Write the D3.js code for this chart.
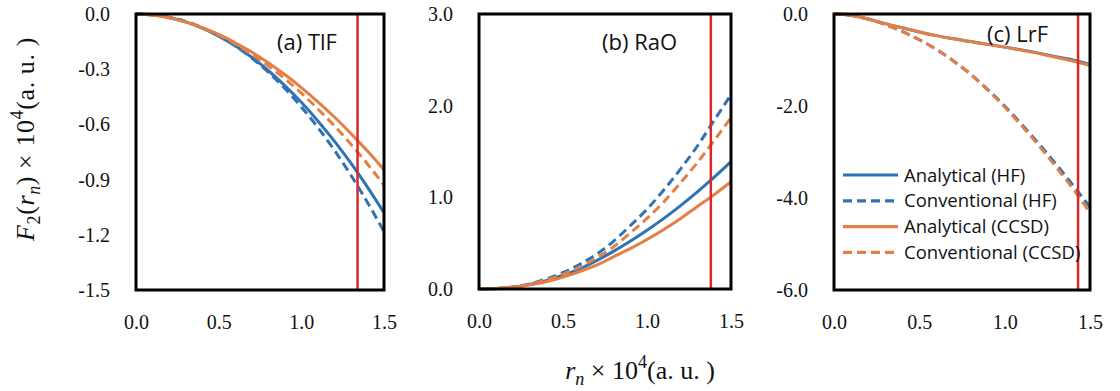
<!DOCTYPE html>
<html>
<head>
<meta charset="utf-8">
<script src="https://cdn.jsdelivr.net/npm/d3@7"></script>
<style>
  body { margin: 0; background: #ffffff; }
  svg { display: block; }
</style>
</head>
<body>
<svg id="chart" width="1120" height="391"></svg>
<script>
// Nuclear radius r_n (×10^4 a.u.)
const rn = [0.0, 0.1, 0.2, 0.3, 0.4, 0.5, 0.6, 0.7, 0.8, 0.9, 1.0, 1.1, 1.2, 1.3, 1.4, 1.5];

// (a) TlF
const tlfAnalyticalHF   = [0, -0.005, -0.019, -0.043, -0.077, -0.120, -0.173, -0.235, -0.307, -0.389, -0.480, -0.581, -0.691, -0.811, -0.941, -1.080];
const tlfConventionalHF = [0, -0.004, -0.017, -0.040, -0.074, -0.118, -0.173, -0.239, -0.316, -0.405, -0.505, -0.617, -0.740, -0.876, -1.024, -1.183];
const tlfAnalyticalCC   = [0, -0.006, -0.020, -0.043, -0.074, -0.111, -0.156, -0.207, -0.265, -0.329, -0.400, -0.477, -0.560, -0.650, -0.745, -0.847];
const tlfConventionalCC = [0, -0.005, -0.020, -0.044, -0.075, -0.115, -0.163, -0.218, -0.281, -0.352, -0.430, -0.516, -0.608, -0.708, -0.815, -0.930];

// (b) RaO
const raoAnalyticalHF   = [0, 0.005, 0.020, 0.050, 0.090, 0.150, 0.220, 0.310, 0.410, 0.520, 0.640, 0.770, 0.910, 1.060, 1.220, 1.390];
const raoConventionalHF = [0, 0.005, 0.022, 0.055, 0.110, 0.180, 0.270, 0.380, 0.520, 0.690, 0.870, 1.080, 1.310, 1.560, 1.840, 2.120];
const raoAnalyticalCC   = [0, 0.004, 0.018, 0.045, 0.080, 0.130, 0.190, 0.260, 0.350, 0.440, 0.540, 0.650, 0.770, 0.900, 1.030, 1.170];
const raoConventionalCC = [0, 0.005, 0.020, 0.050, 0.100, 0.160, 0.240, 0.340, 0.460, 0.610, 0.770, 0.950, 1.160, 1.380, 1.620, 1.870];

// (c) LrF
const lrfAnalyticalHF   = [0, -0.03, -0.11, -0.21, -0.30, -0.39, -0.47, -0.54, -0.60, -0.66, -0.72, -0.78, -0.85, -0.93, -1.00, -1.10];
const lrfConventionalHF = [0, -0.03, -0.11, -0.23, -0.38, -0.56, -0.77, -1.02, -1.31, -1.64, -2.00, -2.40, -2.82, -3.26, -3.72, -4.20];
const lrfAnalyticalCC   = [0, -0.03, -0.11, -0.21, -0.30, -0.39, -0.47, -0.54, -0.60, -0.66, -0.72, -0.79, -0.86, -0.94, -1.02, -1.12];
const lrfConventionalCC = [0, -0.03, -0.11, -0.23, -0.38, -0.56, -0.77, -1.02, -1.31, -1.65, -2.02, -2.43, -2.86, -3.32, -3.80, -4.32];

// Nuclear radius marker for each molecule
const nuclearRadius = { TlF: 1.34, RaO: 1.38, LrF: 1.43 };

// Axis ticks
const xTicks = [0.0, 0.5, 1.0, 1.5];
const yTicksA = [0.0, -0.3, -0.6, -0.9, -1.2, -1.5];
const yTicksB = [0.0, 1.0, 2.0, 3.0];
const yTicksC = [0.0, -2.0, -4.0, -6.0];

// Legend entries
const seriesNames = ["Analytical (HF)", "Conventional (HF)", "Analytical (CCSD)", "Conventional (CCSD)"];

const BLUE = "#2e74b5";
const ORANGE = "#e47f45";
const RED = "#d62a2a";
const seriesStyle = [
  { color: BLUE,   dash: null },
  { color: BLUE,   dash: "9,5" },
  { color: ORANGE, dash: null },
  { color: ORANGE, dash: "9,5" }
];

const panels = [
  { name: "TlF", label: "(a) TlF", x0: 136, x1: 384, y0: 14, y1: 290,
    yDomain: [-1.5, 0], yTicks: yTicksA,
    series: [tlfAnalyticalHF, tlfConventionalHF, tlfAnalyticalCC, tlfConventionalCC],
    labelX: 277, labelY: 50 },
  { name: "RaO", label: "(b) RaO", x0: 479, x1: 731, y0: 14, y1: 289,
    yDomain: [0, 3], yTicks: yTicksB,
    series: [raoAnalyticalHF, raoConventionalHF, raoAnalyticalCC, raoConventionalCC],
    labelX: 602, labelY: 50 },
  { name: "LrF", label: "(c) LrF", x0: 834, x1: 1090, y0: 14, y1: 290,
    yDomain: [-6, 0], yTicks: yTicksC,
    series: [lrfAnalyticalHF, lrfConventionalHF, lrfAnalyticalCC, lrfConventionalCC],
    labelX: 987, labelY: 42, legend: true }
];

const svg = d3.select("#chart");
svg.append("rect").attr("width", 1120).attr("height", 391).attr("fill", "#fff");

const serif = "'Liberation Serif', 'Times New Roman', serif";
const sans = "'Open Sans', 'Noto Sans', sans-serif";

panels.forEach((p) => {
  const x = d3.scaleLinear().domain([0, 1.5]).range([p.x0, p.x1]);
  const y = d3.scaleLinear().domain(p.yDomain).range([p.y1, p.y0]);
  const g = svg.append("g");

  // y axis labels
  const yAxis = d3.axisLeft(y).tickValues(p.yTicks).tickSize(0).tickPadding(26)
    .tickFormat(d => d3.format(".1f")(d).replace("−", "-"));
  const ya = g.append("g").attr("transform", `translate(${p.x0},0)`).call(yAxis);
  ya.select(".domain").remove();
  ya.selectAll("text").attr("font-family", serif).attr("font-size", 20).attr("fill", "#111");

  // x axis labels
  const xAxis = d3.axisBottom(x).tickValues(xTicks).tickSize(0).tickPadding(25)
    .tickFormat(d3.format(".1f"));
  const xa = g.append("g").attr("transform", `translate(0,${p.y1})`).call(xAxis);
  xa.select(".domain").remove();
  xa.selectAll("text").attr("font-family", serif).attr("font-size", 20).attr("fill", "#111");

  // curves
  const line = d3.line().x((d, i) => x(rn[i])).y(d => y(d)).curve(d3.curveMonotoneX);
  p.series.forEach((s, si) => {
    const st = seriesStyle[si];
    g.append("path").datum(s)
      .attr("d", line)
      .attr("fill", "none")
      .attr("stroke", st.color)
      .attr("stroke-width", 3)
      .attr("stroke-dasharray", st.dash)
      .attr("stroke-linecap", "butt");
  });

  // nuclear radius marker
  const rx = x(nuclearRadius[p.name]);
  g.append("line")
    .attr("x1", rx).attr("x2", rx).attr("y1", p.y0).attr("y2", p.y1)
    .attr("stroke", RED).attr("stroke-width", 2.5);

  // frame
  g.append("rect")
    .attr("x", p.x0).attr("y", p.y0)
    .attr("width", p.x1 - p.x0).attr("height", p.y1 - p.y0)
    .attr("fill", "none").attr("stroke", "#000").attr("stroke-width", 3);

  // panel label
  g.append("text")
    .attr("x", p.labelX).attr("y", p.labelY)
    .attr("font-family", sans).attr("font-size", 22).attr("fill", "#111")
    .text(p.label);

  if (p.legend) {
    const lg = g.append("g");
    seriesNames.forEach((name, i) => {
      const ly = 175 + i * 25.8;
      lg.append("line")
        .attr("x1", 843).attr("x2", 898).attr("y1", ly).attr("y2", ly)
        .attr("stroke", seriesStyle[i].color).attr("stroke-width", 3.2)
        .attr("stroke-dasharray", seriesStyle[i].dash);
      lg.append("text")
        .attr("x", 904).attr("y", ly).attr("dy", "0.36em")
        .attr("font-family", sans).attr("font-size", 18.5).attr("fill", "#111")
        .text(name);
    });
  }
});

// y axis title: F2(rn) × 10^4 (a. u.)
const yt = svg.append("text")
  .attr("transform", "translate(34,139) rotate(-90)")
  .attr("text-anchor", "middle")
  .attr("font-family", serif).attr("font-size", 26).attr("fill", "#111")
  .attr("letter-spacing", 0.6);
yt.append("tspan").attr("font-style", "italic").text("F");
yt.append("tspan").attr("font-size", 18).attr("dy", 6).text("2");
yt.append("tspan").attr("dy", -6).text("(");
yt.append("tspan").attr("font-style", "italic").text("r");
yt.append("tspan").attr("font-style", "italic").attr("font-size", 18).attr("dy", 6).text("n");
yt.append("tspan").attr("dy", -6).text(") × 10");
yt.append("tspan").attr("font-size", 18).attr("dy", -11).text("4");
yt.append("tspan").attr("dy", 11).text("(a. u. )");

// x axis title: rn × 10^4 (a. u.)
const xt = svg.append("text")
  .attr("x", 640).attr("y", 379)
  .attr("text-anchor", "middle")
  .attr("font-family", serif).attr("font-size", 26).attr("fill", "#111");
xt.append("tspan").attr("font-style", "italic").text("r");
xt.append("tspan").attr("font-style", "italic").attr("font-size", 18).attr("dy", 6).text("n");
xt.append("tspan").attr("dy", -6).text(" × 10");
xt.append("tspan").attr("font-size", 18).attr("dy", -11).text("4");
xt.append("tspan").attr("dy", 11).text("(a. u. )");
</script>
</body>
</html>
